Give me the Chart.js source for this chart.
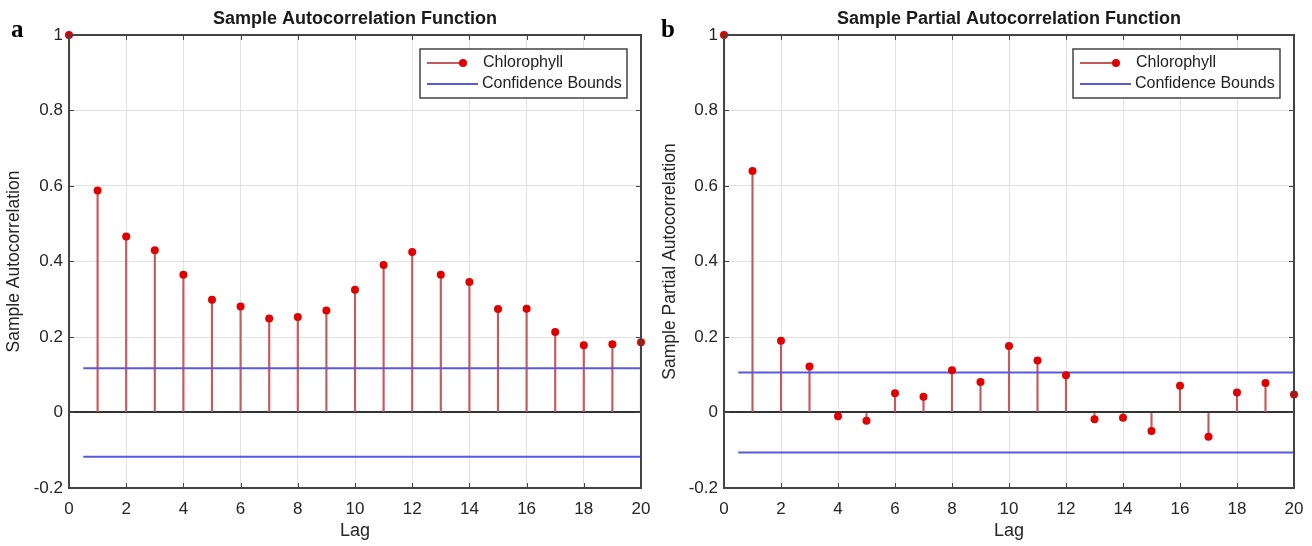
<!DOCTYPE html>
<html>
<head>
<meta charset="utf-8">
<script src="https://cdn.jsdelivr.net/npm/chart.js@4.4.1/dist/chart.umd.min.js"></script>
<style>
  html, body { margin:0; padding:0; background:#fff; }
  #wrap { position:relative; width:1312px; height:546px; background:#fff; overflow:hidden; }
  .cv { position:absolute; top:0; width:656px; height:546px; }
  .panel { position:absolute; font-family:"Liberation Serif","Times New Roman",serif; font-weight:bold; font-size:25px; color:#000; }
</style>
</head>
<body>
<div id="wrap">
  <div class="cv" style="left:0"><canvas id="c1" width="656" height="546"></canvas></div>
  <div class="cv" style="left:656px"><canvas id="c2" width="656" height="546"></canvas></div>
  <div class="panel" style="left:11px; top:15px;">a</div>
  <div class="panel" style="left:661px; top:15px;">b</div>
</div>
<script>
// ---- data ----
const lags = [0,1,2,3,4,5,6,7,8,9,10,11,12,13,14,15,16,17,18,19,20];
const acfValues  = [1, 0.588, 0.466, 0.43, 0.365, 0.299, 0.281, 0.249, 0.253, 0.27, 0.325, 0.391, 0.425, 0.365, 0.346, 0.274, 0.275, 0.213, 0.178, 0.181, 0.186];
const pacfValues = [1, 0.64, 0.19, 0.122, -0.01, -0.022, 0.051, 0.042, 0.112, 0.081, 0.176, 0.138, 0.099, -0.018, -0.014, -0.049, 0.071, -0.064, 0.053, 0.078, 0.048];
const acfBound  = 0.117;
const pacfBound = 0.106;
const boundLags = [0.5, 20];
const xTickValues = [0,2,4,6,8,10,12,14,16,18,20];
const yTickValues = [-0.2,0,0.2,0.4,0.6,0.8,1];
const seriesName = "Chlorophyll";
const boundsName = "Confidence Bounds";
const titles = ["Sample Autocorrelation Function", "Sample Partial Autocorrelation Function"];
const yTitles = ["Sample Autocorrelation", "Sample Partial Autocorrelation"];
const xTitle = "Lag";

// ---- styles ----
const FONT = '"Liberation Sans", Arial, Helvetica, sans-serif';
const stemColor = '#c55a5a';
const dotColor = '#e00000';
const boundColor = '#5858e0';
const boxColor = '#444444';
const textColor = '#262626';

const boxPlugin = {
  id: 'matlabBox',
  afterDraw(chart) {
    const {ctx, chartArea:a, scales} = chart;
    ctx.save();
    ctx.strokeStyle = boxColor;
    ctx.lineWidth = 1;
    const tl = 5;
    ctx.beginPath();
    xTickValues.forEach(v => {
      const px = Math.round(scales.x.getPixelForValue(v)) + 0.5;
      ctx.moveTo(px, a.bottom); ctx.lineTo(px, a.bottom - tl);
      ctx.moveTo(px, a.top); ctx.lineTo(px, a.top + tl);
    });
    yTickValues.forEach(v => {
      const py = Math.round(scales.y.getPixelForValue(v)) + 0.5;
      ctx.moveTo(a.left, py); ctx.lineTo(a.left + tl, py);
      ctx.moveTo(a.right, py); ctx.lineTo(a.right - tl, py);
    });
    ctx.stroke();
    ctx.lineWidth = 2;
    ctx.strokeRect(a.left, a.top, a.right - a.left, a.bottom - a.top);
    ctx.restore();
  }
};

const titlePlugin = {
  id: 'plotTitle',
  afterDraw(chart, args, opts) {
    const {ctx, chartArea:a} = chart;
    ctx.save();
    ctx.font = 'bold 18px ' + FONT;
    ctx.fillStyle = '#1a1a1a';
    ctx.textAlign = 'center';
    ctx.textBaseline = 'middle';
    ctx.fillText(opts.text, (a.left + a.right) / 2, 19);
    ctx.restore();
  }
};

const legendPlugin = {
  id: 'boxLegend',
  afterDatasetsDraw(chart, args, opts) {
    const {ctx, chartArea:a} = chart;
    const w = 207, h = 49;
    const x = a.right - opts.rightInset - w;
    const y = a.top + 14;
    ctx.save();
    ctx.fillStyle = '#fff';
    ctx.fillRect(x, y, w, h);
    ctx.strokeStyle = boxColor;
    ctx.lineWidth = 1.5;
    ctx.strokeRect(x, y, w, h);
    const ds = chart.data.datasets;
    const stem = ds[0], pts = ds[1], bnd = ds[2];
    const r1 = y + 14, r2 = y + 35;
    ctx.strokeStyle = stem.backgroundColor;
    ctx.lineWidth = 2;
    ctx.beginPath(); ctx.moveTo(x + 7, r1); ctx.lineTo(x + 43, r1); ctx.stroke();
    ctx.fillStyle = pts.backgroundColor;
    ctx.beginPath(); ctx.arc(x + 43, r1, 4, 0, Math.PI * 2); ctx.fill();
    ctx.strokeStyle = bnd.borderColor;
    ctx.lineWidth = 2;
    ctx.beginPath(); ctx.moveTo(x + 7, r2); ctx.lineTo(x + 58, r2); ctx.stroke();
    ctx.fillStyle = '#222';
    ctx.font = '16px ' + FONT;
    ctx.textAlign = 'left';
    ctx.textBaseline = 'middle';
    ctx.fillText(pts.label, x + 63, r1);
    ctx.fillText(bnd.label, x + 62, r2);
    ctx.restore();
  }
};

function makeChart(id, values, bound, title, yTitle, rightPad, leftW, rightInset) {
  const stems = lags.map((l, i) => ({x: l, y: values[i]}));
  const pts = lags.map((l, i) => ({x: l, y: values[i]}));
  const upper = boundLags.map(l => ({x: l, y: bound}));
  const lower = boundLags.map(l => ({x: l, y: -bound}));
  return new Chart(document.getElementById(id), {
    type: 'scatter',
    data: {
      datasets: [
        { type:'bar', label: seriesName + ' stem', data: stems, backgroundColor: stemColor, borderWidth: 0,
          barThickness: 1.5, grouped: false, order: 3 },
        { type:'scatter', label: seriesName, data: pts, backgroundColor: dotColor, borderColor: dotColor,
          pointRadius: 4, pointHoverRadius: 4, borderWidth: 0, clip: false, order: 1 },
        { type:'line', label: boundsName, data: upper, borderColor: boundColor, backgroundColor: boundColor,
          borderWidth: 2, pointRadius: 0, fill: false, order: 2 },
        { type:'line', label: boundsName + ' lower', data: lower, borderColor: boundColor, backgroundColor: boundColor,
          borderWidth: 2, pointRadius: 0, fill: false, order: 2 }
      ]
    },
    options: {
      responsive: false,
      animation: false,
      layout: { padding: { top: 35, right: rightPad, bottom: 0, left: 0 } },
      plugins: {
        legend: { display: false },
        tooltip: { enabled: false },
        title: { display: false },
        plotTitle: { text: title },
        boxLegend: { rightInset: rightInset }
      },
      scales: {
        x: {
          type: 'linear', min: 0, max: 20, offset: false,
          afterBuildTicks: s => { s.ticks = xTickValues.map(v => ({value: v})); },
          afterFit: s => { s.height = 58; s.paddingLeft = 0; s.paddingRight = 0; },
          grid: { color: '#e2e2e2', lineWidth: 1, drawTicks: false, offset: false },
          border: { display: false },
          ticks: { color: textColor, font: { family: FONT, size: 17 }, padding: 11, maxRotation: 0,
                   callback: v => String(v) },
          title: { display: true, text: xTitle, color: textColor, font: { family: FONT, size: 18 },
                   padding: { top: 4, bottom: 4 } }
        },
        y: {
          type: 'linear', min: -0.2, max: 1,
          afterBuildTicks: s => { s.ticks = yTickValues.map(v => ({value: v})); },
          afterFit: s => { s.width = leftW; s.paddingTop = 0; s.paddingBottom = 0; },
          grid: {
            color: c => (c.tick && Math.abs(c.tick.value) < 1e-9) ? '#333333' : '#e2e2e2',
            lineWidth: c => (c.tick && Math.abs(c.tick.value) < 1e-9) ? 2 : 1,
            drawTicks: false
          },
          border: { display: false },
          ticks: { color: textColor, font: { family: FONT, size: 17 }, padding: 6,
                   callback: v => String(Math.round(v * 10) / 10) },
          title: { display: true, text: yTitle, color: textColor, font: { family: FONT, size: 17.5 },
                   padding: { top: 4, bottom: 4 } }
        }
      }
    },
    plugins: [boxPlugin, titlePlugin, legendPlugin]
  });
}

makeChart('c1', acfValues, acfBound, titles[0], yTitles[0], 15, 69, 14);
makeChart('c2', pacfValues, pacfBound, titles[1], yTitles[1], 18, 68, 14);
</script>
</body>
</html>
